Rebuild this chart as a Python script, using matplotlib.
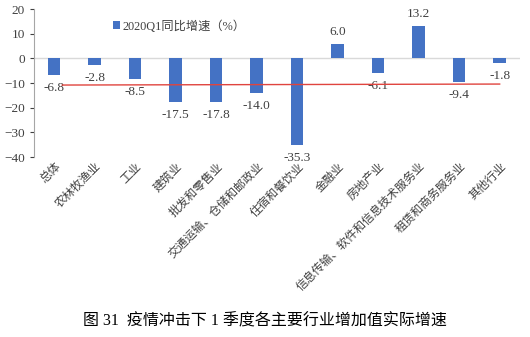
import matplotlib.pyplot as plt
import numpy as np

plt.rcParams['font.family'] = ['Liberation Serif', 'Noto Sans CJK SC']

# data
categories = ["总体", "农林牧渔业", "工业", "建筑业", "批发和零售业", "交通运输、仓储和邮政业",
              "住宿和餐饮业", "金融业", "房地产业", "信息传输、软件和信息技术服务业",
              "租赁和商务服务业", "其他行业"]
growth = [-6.8, -2.8, -8.5, -17.5, -17.8, -14.0, -35.3, 6.0, -6.1, 13.2, -9.4, -1.8]
ref_line_x = [0.2, 11]
ref_line_y = [-10.8, -10.4]
yticks = [-40, -30, -20, -10, 0, 10, 20]

fig = plt.figure(figsize=(5.3, 3.37), dpi=100)
ax = fig.add_axes([0.064, 0.534, 0.917, 0.439])

x = np.arange(len(categories))
ax.bar(x, growth, width=0.31, color="#4472C4", label="2020Q1同比增速（%）", zorder=3)
ax.axhline(0, color="#D9D9D9", lw=1, zorder=2)
ax.plot(ref_line_x, ref_line_y, color="#E0443E", lw=1, zorder=4)

for xi, v in zip(x, growth):
    if v < 0:
        ax.annotate(f"{v:.1f}", (xi, v), xytext=(0, -5), textcoords="offset points",
                    ha="center", va="top", fontsize=9.5, color="#404040")
    else:
        ax.annotate(f"{v:.1f}", (xi, v), xytext=(0, 4), textcoords="offset points",
                    ha="center", va="bottom", fontsize=9.5, color="#404040")

ax.set_xlim(-0.5, len(categories) - 0.5)
ax.set_ylim(-40, 20)
ax.set_yticks(yticks)
ax.tick_params(axis="y", labelsize=9.5, colors="#404040", length=3, direction="out")
ax.tick_params(axis="x", length=0, pad=2)
ax.set_xticks(x)
ax.set_xticklabels(categories, rotation=45, ha="right", rotation_mode="anchor",
                   fontsize=8.5, color="#404040", family=['Noto Sans CJK SC'])
for s in ["top", "right", "bottom"]:
    ax.spines[s].set_visible(False)
ax.spines["left"].set_color("#A6A6A6")

ax.legend(loc="upper left", bbox_to_anchor=(0.14, 1.0), frameon=False, fontsize=8.8,
          handlelength=0.6, handleheight=0.6, handletextpad=0.2, labelcolor="#404040")

fig.text(0.5, 0.035, "图 31  疫情冲击下 1 季度各主要行业增加值实际增速", ha="center",
         fontsize=11.5, color="#000000")

fig.savefig("out.png", dpi=100)
